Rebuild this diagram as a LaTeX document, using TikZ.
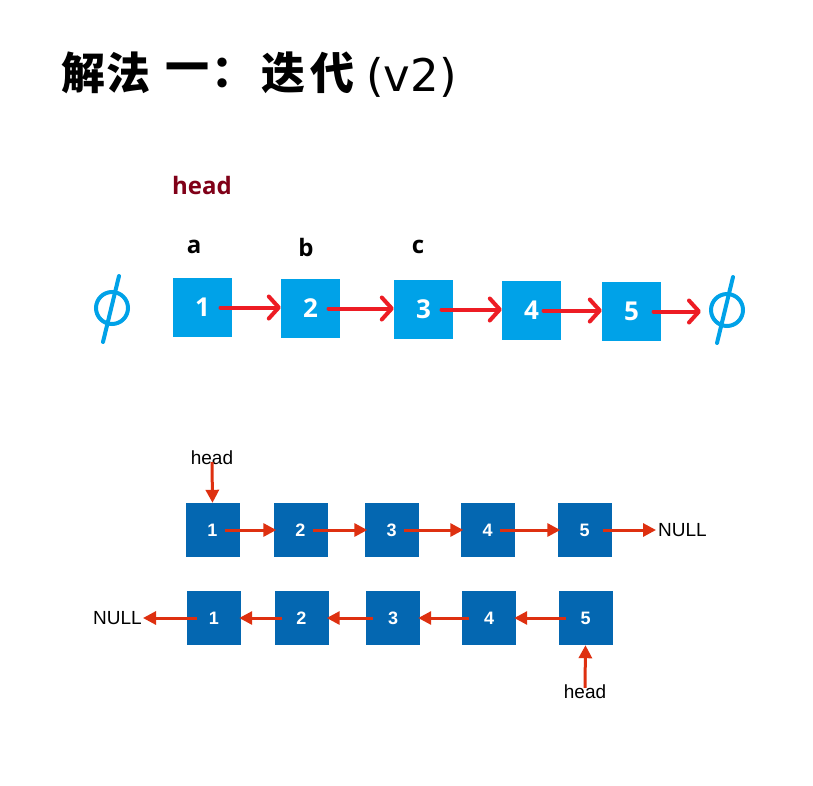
\documentclass[tikz,border=0pt]{standalone}
\usepackage{fontspec}
\setmainfont{Open Sans}
\newfontfamily\cjk{Noto Sans CJK SC}
\newfontfamily\helv{Liberation Sans}
\newfontfamily\dejavu{DejaVu Sans}
\usetikzlibrary{arrows.meta}
\definecolor{lblue}{RGB}{0,162,232}
\definecolor{dblue}{RGB}{4,103,177}
\definecolor{tred}{RGB}{237,28,36}
\definecolor{bred}{RGB}{222,48,16}
\definecolor{hred}{RGB}{128,0,24}
\tikzset{
  tbox/.style={fill=lblue, minimum size=59pt, inner sep=0pt, text=white,
    font=\bfseries\fontsize{26}{30}\selectfont},
  dbox/.style={fill=dblue, minimum size=54pt, inner sep=0pt, text=white,
    font=\helv\bfseries\fontsize{18}{22}\selectfont},
  tarrow/.style={draw=tred, line width=4pt, line cap=round,
    -{Straight Barb[length=10pt,width=22pt,round]}},
  barrow/.style={draw=bred, line width=3pt,
    -{Triangle[length=13pt,width=13pt]}},
  phinode/.style={circle, draw=lblue, line width=4pt, minimum size=32pt, inner sep=0pt},
  philine/.style={draw=lblue, line width=4pt, line cap=round},
  toplabel/.style={font=\bfseries\fontsize{24}{28}\selectfont, inner sep=0pt},
  blabel/.style={font=\helv\fontsize{19}{22}\selectfont, inner sep=0pt},
  tchar/.style={inner sep=0pt, font=\cjk\bfseries\fontsize{44}{50}\selectfont},
}
\begin{document}
\begin{tikzpicture}[x=1pt,y=-1pt]
\useasboundingbox[fill=white] (0,0) rectangle (813,785);
% title
\node[tchar] (c1) at (83,73) {解};
\node[tchar] (c2) at (128,73) {法};
\node[tchar] (c3) at (187,73) {一};
\node[tchar] (c4) at (233,73) {：};
\node[tchar] (c5) at (283,73) {迭};
\node[tchar] (c6) at (332,73) {代};
\node[inner sep=0pt, anchor=west, font=\dejavu\fontsize{45}{50}\selectfont] (c7) at (366,77) {(v2)};
% top section
\node[toplabel, text=hred] (headT) at (202,185) {head};
\node[toplabel] (la) at (194,247) {a};
\node[toplabel] (lb) at (306,247) {b};
\node[toplabel] (lc) at (418,247) {c};
\node[tbox] (t1) at (202.5,307.5) {1};
\node[tbox] (t2) at (310.5,308.5) {2};
\node[tbox] (t3) at (423.5,309.5) {3};
\node[tbox] (t4) at (531.5,310.5) {4};
\node[tbox] (t5) at (631.5,311.5) {5};
\node[phinode] (phiL) at (112,308) {};
\node[phinode] (phiR) at (727,310) {};
\draw[philine] ([shift={(7,-32)}]phiL.center) -- ([shift={(-9,34)}]phiL.center);
\draw[philine] ([shift={(6,-33)}]phiR.center) -- ([shift={(-10,33)}]phiR.center);
\draw[tarrow] ([xshift=18pt]t1.center) -- (t1.center -| t2.west);
\draw[tarrow] ([xshift=18pt]t2.center) -- (t2.center -| t3.west);
\draw[tarrow] ([xshift=18pt]t3.center) -- (t3.center -| t4.west);
\draw[tarrow] ([xshift=12pt]t4.center) -- (t4.center -| t5.west);
\draw[tarrow] ([xshift=22pt]t5.center) -- ([xshift=-8pt]t5.center -| phiR.west);
% bottom section, row 1
\node[dbox] (a1) at (212.5,530) {1};
\node[dbox] (a2) at (300.5,530) {2};
\node[dbox] (a3) at (391.5,530) {3};
\node[dbox] (a4) at (487.5,530) {4};
\node[dbox] (a5) at (584.5,530) {5};
\node[blabel, anchor=west] (nullA) at (658,530) {NULL};
\node[blabel] (headA) at (212,458) {head};
\draw[barrow] ([yshift=3pt]headA.south) -- (a1.north);
\draw[barrow] ([xshift=12pt]a1.center) -- ([xshift=3pt]a2.west);
\draw[barrow] ([xshift=12pt]a2.center) -- ([xshift=3pt]a3.west);
\draw[barrow] ([xshift=12pt]a3.center) -- ([xshift=3pt]a4.west);
\draw[barrow] ([xshift=12pt]a4.center) -- ([xshift=3pt]a5.west);
\draw[barrow] ([xshift=18pt]a5.center) -- ([xshift=-2pt]nullA.west);
% bottom section, row 2
\node[dbox] (b1) at (214,618) {1};
\node[dbox] (b2) at (301.5,618) {2};
\node[dbox] (b3) at (393,618) {3};
\node[dbox] (b4) at (489,618) {4};
\node[dbox] (b5) at (585.5,618) {5};
\node[blabel, anchor=east] (nullB) at (142,618) {NULL};
\node[blabel] (headB) at (585,692) {head};
\draw[barrow] ([yshift=-3pt]headB.north) -- (b5.south);
\draw[barrow] ([xshift=-20pt]b5.center) -- ([xshift=-2pt]b4.east);
\draw[barrow] ([xshift=-20pt]b4.center) -- ([xshift=-2pt]b3.east);
\draw[barrow] ([xshift=-20pt]b3.center) -- ([xshift=-2pt]b2.east);
\draw[barrow] ([xshift=-20pt]b2.center) -- ([xshift=-2pt]b1.east);
\draw[barrow] ([xshift=-17pt]b1.center) -- ([xshift=1pt]nullB.east);
\end{tikzpicture}
\end{document}
